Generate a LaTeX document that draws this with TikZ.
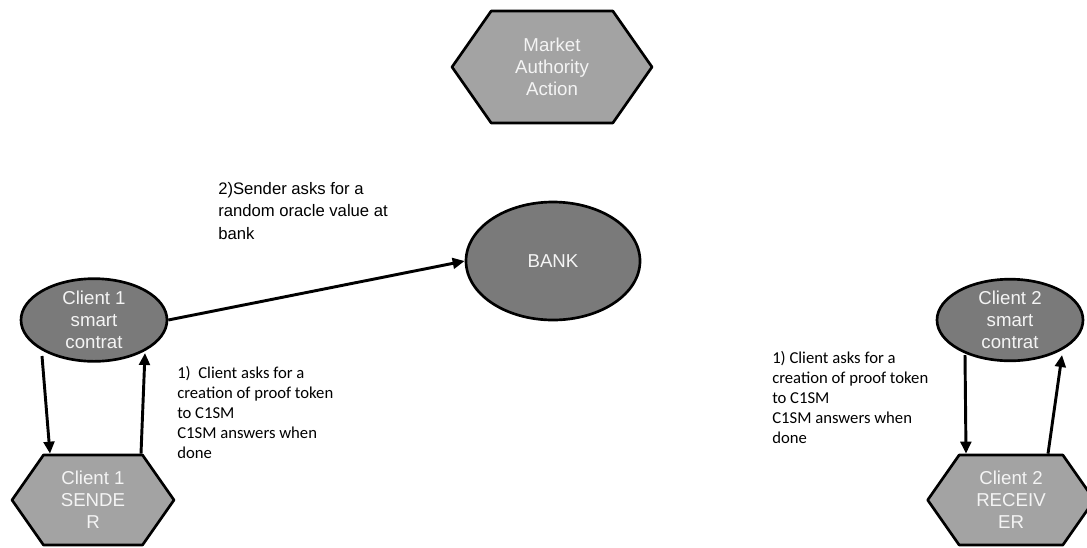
\documentclass[tikz,border=0pt]{standalone}
\usepackage{fontspec}
\setmainfont{Liberation Sans}
\newfontfamily\calibri{Carlito}
\usetikzlibrary{shapes.geometric,shapes.symbols,arrows.meta,calc}
\definecolor{darkfill}{HTML}{7A7A7A}
\definecolor{lightfill}{HTML}{A3A3A3}
\definecolor{nodetext}{HTML}{F4F4F4}
\begin{document}
\begin{tikzpicture}[x=0.75pt,y=-0.75pt,>={Triangle[length=9pt,width=8pt]}, line join = round, font=\fontsize{14pt}{16.5pt}\selectfont]
            \tikzset{oval/.style={ellipse,draw=black,line width=2pt,fill=darkfill,text=nodetext,align=center,inner sep=0pt},
                     hexa/.style={signal,signal to=east and west,signal pointer angle=110,draw=black,line width=2pt,fill=lightfill,text=nodetext,align=center,inner sep=0pt},
                     arr/.style={->,line width=2.2pt},
                     note/.style={anchor=north west,inner sep=0pt,align=left},
                     cnote/.style={note,font=\calibri\fontsize{12.5pt}{15pt}\selectfont}}
            \useasboundingbox (0,0) rectangle (1087,547);
            \node[hexa,minimum width=150pt,minimum height=84pt] (maa) at (552,67) {Market\\Authority\\Action};
            \node[oval,minimum width=130.5pt,minimum height=88.5pt] (bank) at (553,261) {BANK};
            \node[oval,minimum width=109.5pt,minimum height=62pt] (c1sm) at (94,320) {Client 1\\smart\\contrat};
            \node[hexa,minimum width=121.5pt,minimum height=67.5pt] (c1s) at (93,500) {Client 1\\SENDE\\R};
            \node[oval,minimum width=109.5pt,minimum height=58.5pt] (c2sm) at (1010,320) {Client 2\\smart\\contrat};
            \node[hexa,minimum width=125pt,minimum height=67.5pt] (c2r) at (1011,500) {Client 2\\RECEIV\\ER};
            \draw[arr] (c1sm.east) -- (bank.west);
            \draw[arr] ($(c1sm.center)+(-52,36)$) -- ($(c1s.north)+(-43,0)$);
            \draw[arr] ($(c1s.north)+(48,0)$) -- ($(c1sm.center)+(51,33)$);
            \draw[arr] ($(c2sm.center)+(-45,35)$) -- ($(c2r.north)+(-45,0)$);
            \draw[arr] ($(c2r.north)+(37,0)$) -- ($(c2sm.center)+(52,35)$);
            \node[note,font=\fontsize{12.5pt}{16.9pt}\selectfont] (ask2) at (218,182) {2)Sender asks for a\\random oracle value at\\bank};
            \node[cnote] (ask1) at (177,366) {1)\ \ Client asks for a\\creation of proof token\\to C1SM\\C1SM answers when\\done};
            \node[cnote] (ask1r) at (772,351) {1) Client asks for a\\creation of proof token\\to C1SM\\C1SM answers when\\done};
        \end{tikzpicture}
\end{document}
